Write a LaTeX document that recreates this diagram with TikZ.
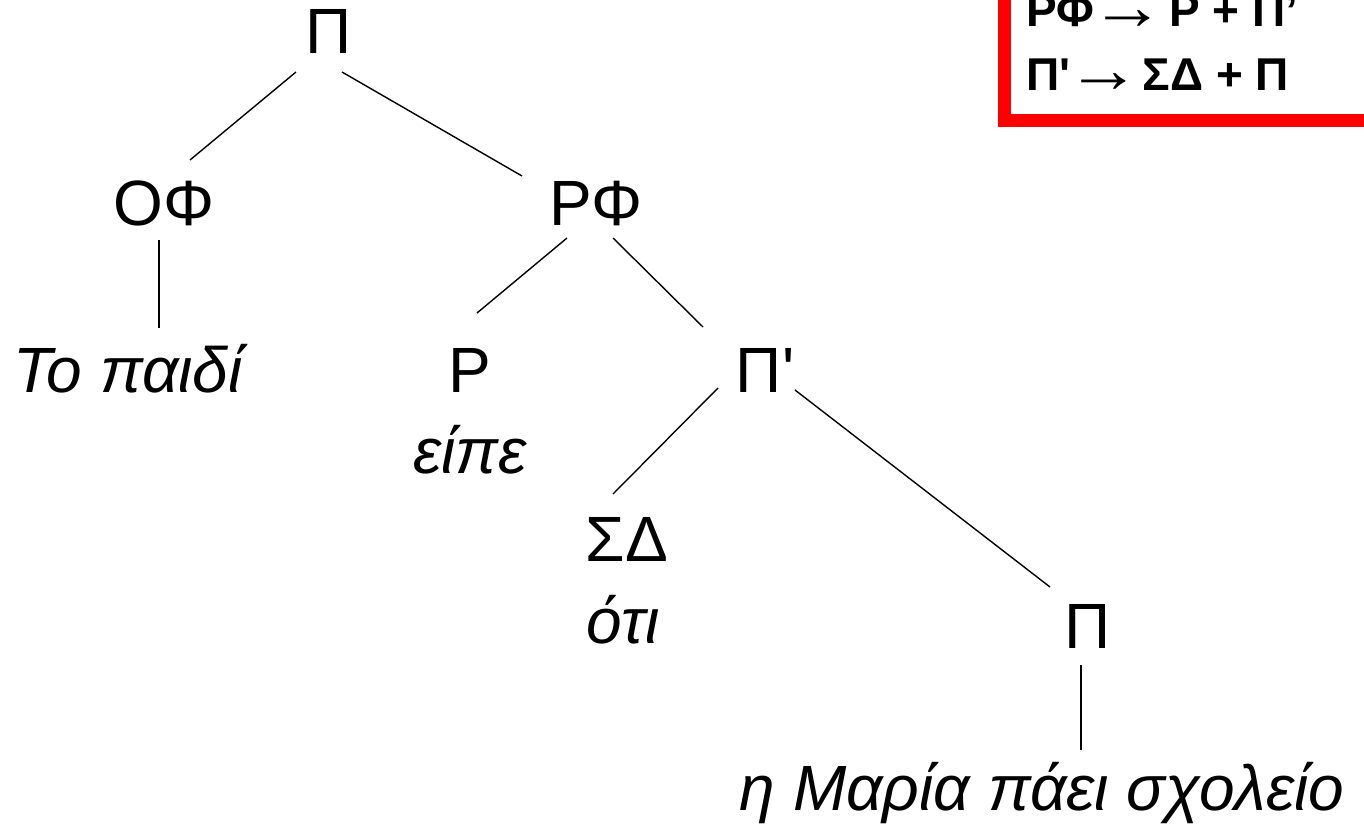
\documentclass[tikz,border=0pt]{standalone}
\usepackage{fontspec}
\setmainfont{Liberation Sans}[Ligatures=TeXOff]
\newcommand{\bigarr}{\raisebox{-0.05em}{\scalebox{1.62}[1.45]{\mdseries →}}}
\begin{document}
\begin{tikzpicture}[x=1pt,y=-1pt,
  lbl/.style={anchor=base,inner sep=0pt,font=\fontsize{64}{76}\selectfont},
  word/.style={lbl,font=\fontsize{64}{76}\selectfont\itshape},
  rule/.style={anchor=base west,inner sep=0pt,font=\fontsize{46}{55}\selectfont\bfseries},
  edge/.style={line width=1.4pt,black},
  redframe/.style={line width=13pt,draw={rgb,255:red,255;green,0;blue,0}}]
\useasboundingbox (0,0) rectangle (1364,827);
\clip (0,0) rectangle (1364,827);
% frame of the rules box
\draw[redframe] (1004,-60) -- (1004,120) -- (1420,120);
\node[rule] (r1) at (1026,27) {ΡΦ\hspace{-4pt}\bigarr\hspace{4pt}Ρ + Π’};
\node[rule] (r2) at (1026,90) {Π'\hspace{-4pt}\bigarr\hspace{2pt}ΣΔ + Π};
% tree
\node[lbl] (top) at (329,53) {Π};
\node[lbl] (of) at (164,225) {ΟΦ};
\node[lbl] (rf) at (596,225) {ΡΦ};
\node[word] (to) at (128,392) {Το παιδί};
\node[lbl] (r) at (470,392) {Ρ};
\node[lbl] (pp) at (765,392) {Π'};
\node[word] (eipe) at (470,473) {είπε};
\node[lbl] (sd) at (627,561) {ΣΔ};
\node[word] (oti) at (623,643) {ότι};
\node[lbl] (p) at (1088,648) {Π};
\node[word] (maria) at (1042,810) {η Μαρία πάει σχολείο};
\draw[edge] ([shift={(-33,19)}]top.base) -- ([shift={(26,-65)}]of.base);
\draw[edge] ([shift={(13,19)}]top.base) -- ([shift={(-74,-49)}]rf.base);
\draw[edge] ([shift={(-5,15)}]of.base) -- ([shift={(31,-64)}]to.base);
\draw[edge] ([shift={(-29,13)}]rf.base) -- ([shift={(7,-79)}]r.base);
\draw[edge] ([shift={(17,13)}]rf.base) -- ([shift={(-62,-65)}]pp.base);
\draw[edge] ([shift={(-47,-4)}]pp.base) -- ([shift={(-14,-67)}]sd.base);
\draw[edge] ([shift={(30,-2)}]pp.base) -- ([shift={(-38,-61)}]p.base);
\draw[edge] ([shift={(-7,17)}]p.base) -- ([shift={(39,-60)}]maria.base);
\end{tikzpicture}
\end{document}
